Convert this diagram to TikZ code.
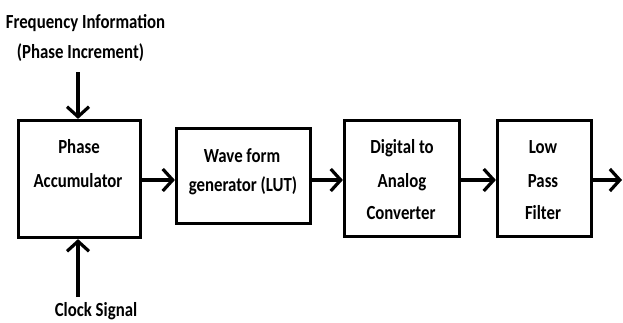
\documentclass[tikz,border=0pt]{standalone}
\usepackage{fontspec}
\setmainfont{Carlito}[FakeStretch=0.84]
\usetikzlibrary{arrows.meta}
\begin{document}
\begin{tikzpicture}[x=1pt,y=-1pt,
  box/.style={draw,line width=3.2pt,inner sep=0pt},
  txt/.style={anchor=base,inner sep=0pt,font=\fontsize{20}{20}\selectfont\bfseries},
  conn/.style={line width=3.2pt,-{Straight Barb[length=10pt,width=22pt,line width=3.2pt]}}]
\useasboundingbox (0,0) rectangle (623,322);
% boxes
\node[box,minimum width=122pt,minimum height=117pt] (pa)  at (79.5,179) {};
\node[box,minimum width=134pt,minimum height=95pt]  (wf)  at (243.5,176) {};
\node[box,minimum width=115pt,minimum height=116pt] (dac) at (402,178.5) {};
\node[box,minimum width=94pt,minimum height=116pt]  (lpf) at (544.5,178.5) {};
% texts
\node[txt] (f1) at (85.5,28) {Frequency Information};
\node[txt] (f2) at (80.5,58) {(Phase Increment)};
\node[txt] (ck) at (96,316) {Clock Signal};
\node[txt] (pa1) at (79,153) {Phase};
\node[txt] (pa2) at (78,187) {Accumulator};
\node[txt] (wf1) at (242,162) {Wave form};
\node[txt] (wf2) at (243,191) {generator (LUT)};
\node[txt] (d1) at (402,153) {Digital to};
\node[txt] (d2) at (402,187) {Analog};
\node[txt] (d3) at (401,219) {Converter};
\node[txt] (l1) at (543,153) {Low};
\node[txt] (l2) at (543,187) {Pass};
\node[txt] (l3) at (543,219) {Filter};
% connector ends
\coordinate (fin) at (78,72);
\coordinate (cin) at (78,297);
\coordinate (out) at (622,180);
\coordinate (ya) at (0,180);
% connectors
\draw[conn] (fin) -- (fin |- pa.north);
\draw[conn] (cin) -- (cin |- pa.south);
\draw[conn] (pa.east |- ya) -- (wf.west |- ya);
\draw[conn] (wf.east |- ya) -- (dac.west |- ya);
\draw[conn] (dac.east |- ya) -- (lpf.west |- ya);
\draw[conn] (lpf.east |- ya) -- (out);
\end{tikzpicture}
\end{document}
